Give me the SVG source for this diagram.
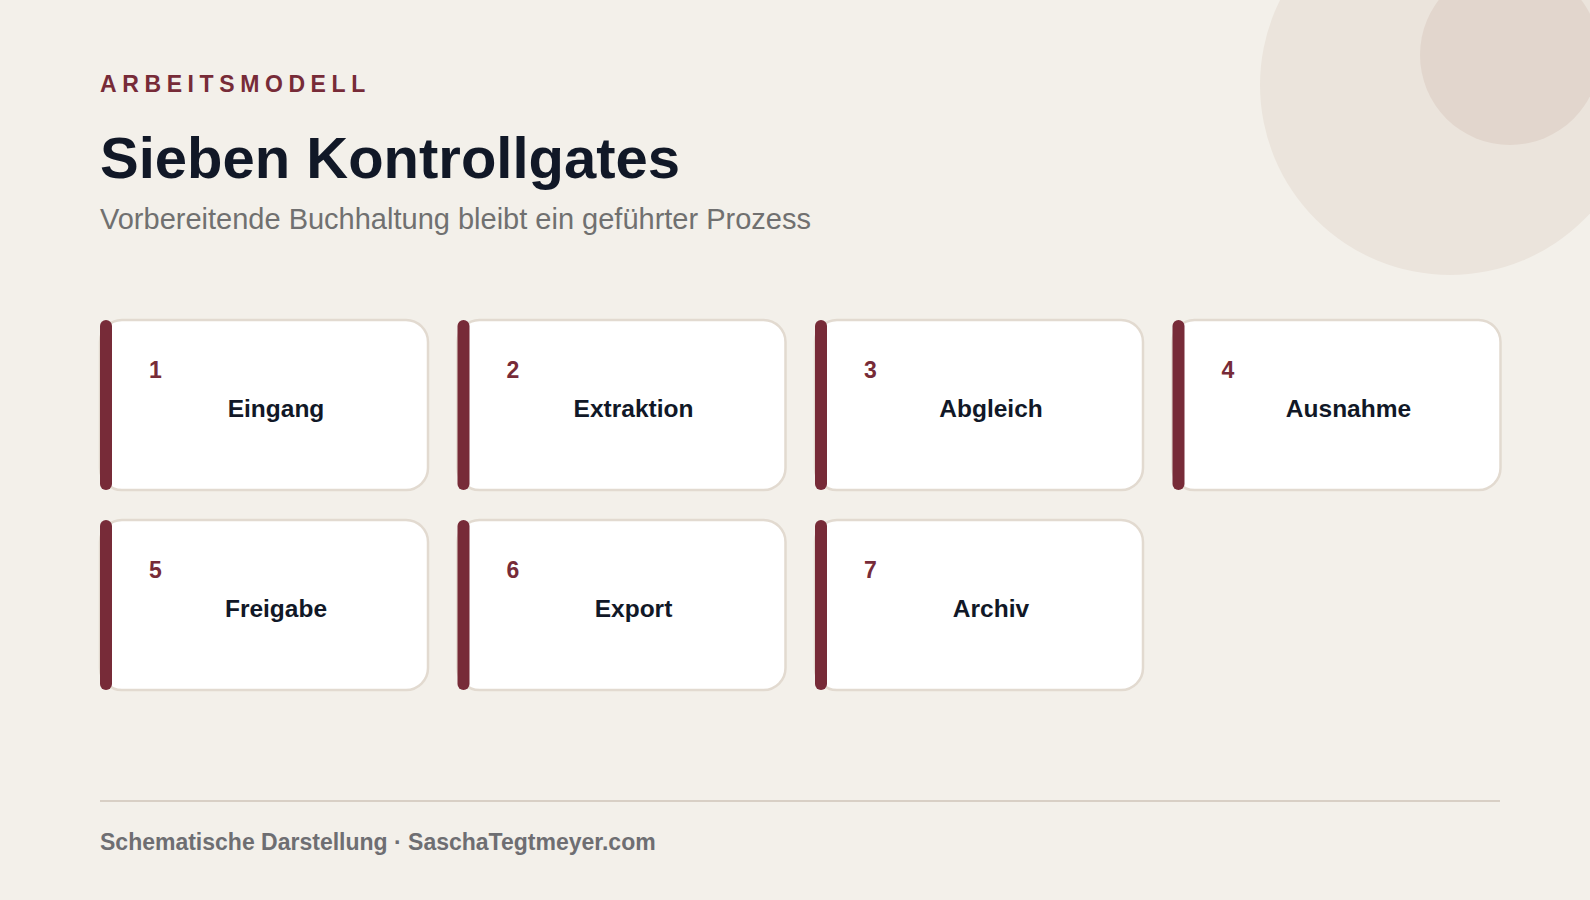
<svg xmlns="http://www.w3.org/2000/svg" width="1590" height="900" viewBox="0 0 1590 900">
<style>
.card{fill:#ffffff;stroke:#e2dad0;stroke-width:2.5}
.bar{fill:#772b38}
.num{font-family:"Liberation Sans",Arial,sans-serif;font-weight:bold;font-size:23px;fill:#772b38}
.lbl{font-family:"Liberation Sans",Arial,sans-serif;font-weight:bold;font-size:24.5px;fill:#111827;text-anchor:middle}
</style>
<rect x="0" y="0" width="1590" height="900" fill="#f3f0ea"/>
<g id="decor">
<circle cx="1450" cy="85" r="190" fill="#ebe4dc"/>
<circle cx="1510" cy="55" r="90" fill="#e2d6cd"/>
</g>
<g id="header">
<text x="100" y="92" font-family="Liberation Sans,Arial,sans-serif" font-weight="bold" font-size="23" letter-spacing="5.6" fill="#772b38">ARBEITSMODELL</text>
<text x="100" y="178" font-family="Liberation Sans,Arial,sans-serif" font-weight="bold" font-size="58" fill="#111827">Sieben Kontrollgates</text>
<text x="100" y="229" font-family="Liberation Sans,Arial,sans-serif" font-size="29" fill="#707070">Vorbereitende Buchhaltung bleibt ein geführter Prozess</text>
</g>
<g id="connectors"></g>
<g id="gate1"><rect class="card" x="100" y="320" width="328" height="170" rx="22"/><rect class="bar" x="100" y="320" width="12" height="170" rx="6"/><text class="num" x="149" y="378">1</text><text class="lbl" x="276" y="417">Eingang</text></g>
<g id="gate2"><rect class="card" x="457.5" y="320" width="328" height="170" rx="22"/><rect class="bar" x="457.5" y="320" width="12" height="170" rx="6"/><text class="num" x="506.5" y="378">2</text><text class="lbl" x="633.5" y="417">Extraktion</text></g>
<g id="gate3"><rect class="card" x="815" y="320" width="328" height="170" rx="22"/><rect class="bar" x="815" y="320" width="12" height="170" rx="6"/><text class="num" x="864" y="378">3</text><text class="lbl" x="991" y="417">Abgleich</text></g>
<g id="gate4"><rect class="card" x="1172.5" y="320" width="328" height="170" rx="22"/><rect class="bar" x="1172.5" y="320" width="12" height="170" rx="6"/><text class="num" x="1221.5" y="378">4</text><text class="lbl" x="1348.5" y="417">Ausnahme</text></g>
<g id="gate5"><rect class="card" x="100" y="520" width="328" height="170" rx="22"/><rect class="bar" x="100" y="520" width="12" height="170" rx="6"/><text class="num" x="149" y="578">5</text><text class="lbl" x="276" y="617">Freigabe</text></g>
<g id="gate6"><rect class="card" x="457.5" y="520" width="328" height="170" rx="22"/><rect class="bar" x="457.5" y="520" width="12" height="170" rx="6"/><text class="num" x="506.5" y="578">6</text><text class="lbl" x="633.5" y="617">Export</text></g>
<g id="gate7"><rect class="card" x="815" y="520" width="328" height="170" rx="22"/><rect class="bar" x="815" y="520" width="12" height="170" rx="6"/><text class="num" x="864" y="578">7</text><text class="lbl" x="991" y="617">Archiv</text></g>
<g id="footer">
<line x1="100" y1="801" x2="1500" y2="801" stroke="#d8cfc5" stroke-width="2"/>
<text x="100" y="850" font-family="Liberation Sans,Arial,sans-serif" font-weight="bold" font-size="23" fill="#6e6e72">Schematische Darstellung · SaschaTegtmeyer.com</text>
</g>
</svg>
